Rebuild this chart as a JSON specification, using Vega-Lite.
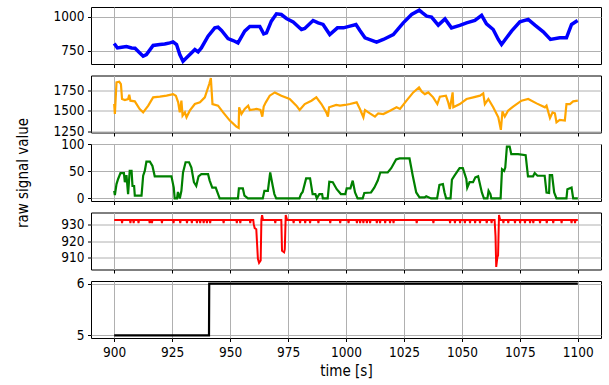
{
  "$schema": "https://vega.github.io/schema/vega-lite/v6.json",
  "padding": {"left": 14, "top": 6, "right": 5, "bottom": 5},
  "background": "white",
  "bounds": "flush",
  "spacing": 11.5,
  "config": {
    "view": {"stroke": "black", "strokeWidth": 1},
    "axis": {
      "labelFont": "DejaVu Sans Condensed, DejaVu Sans",
      "labelFontSize": 13.5,
      "labelColor": "black",
      "tickColor": "black",
      "tickSize": 3.5,
      "tickWidth": 1,
      "domain": false,
      "grid": true,
      "gridColor": "#b0b0b0",
      "gridWidth": 1,
      "labelPadding": 3.5,
      "format": "d",
      "titleFont": "DejaVu Sans Condensed, DejaVu Sans",
      "titleFontSize": 15,
      "titleFontWeight": "normal",
      "titleColor": "black"
    }
  },
  "datasets": {
    "blue": [
      {"t":900,"v":805},{"t":901.4,"v":772},{"t":903.2,"v":777},{"t":905.3,"v":782},{"t":907.5,"v":772},{"t":909,"v":770},{"t":910.3,"v":748},{"t":912.5,"v":711},{"t":913.9,"v":723},{"t":916.8,"v":790},{"t":919.7,"v":797},{"t":921.8,"v":801},{"t":924,"v":809},{"t":925.4,"v":816},{"t":926.9,"v":797},{"t":928.3,"v":723},{"t":929.7,"v":674},{"t":931.2,"v":699},{"t":933.3,"v":735},{"t":934.8,"v":760},{"t":936.2,"v":743},{"t":937.6,"v":772},{"t":940.5,"v":858},{"t":943.4,"v":919},{"t":944.8,"v":924},{"t":946.3,"v":900},{"t":949.1,"v":841},{"t":951.3,"v":826},{"t":953.4,"v":809},{"t":956.3,"v":895},{"t":958.5,"v":929},{"t":962.8,"v":929},{"t":964.5,"v":875},{"t":965.7,"v":882},{"t":967.8,"v":968},{"t":970,"v":1022},{"t":972.1,"v":1017},{"t":974.3,"v":988},{"t":977.2,"v":963},{"t":980.8,"v":907},{"t":982.2,"v":914},{"t":985.8,"v":973},{"t":988,"v":956},{"t":990.1,"v":944},{"t":993,"v":870},{"t":996.3,"v":919},{"t":998.9,"v":919},{"t":1001.7,"v":932},{"t":1004.3,"v":944},{"t":1006,"v":900},{"t":1008.2,"v":846},{"t":1013.2,"v":814},{"t":1016.1,"v":834},{"t":1020.4,"v":870},{"t":1024.7,"v":956},{"t":1028.3,"v":1017},{"t":1031.6,"v":1049},{"t":1033,"v":1029},{"t":1034.8,"v":1005},{"t":1036.9,"v":998},{"t":1039.8,"v":939},{"t":1042.7,"v":985},{"t":1045.5,"v":919},{"t":1049.1,"v":937},{"t":1052,"v":956},{"t":1055.6,"v":973},{"t":1058.5,"v":1010},{"t":1060.6,"v":948},{"t":1063.5,"v":907},{"t":1065.7,"v":834},{"t":1067.1,"v":797},{"t":1071.4,"v":895},{"t":1075,"v":963},{"t":1078.6,"v":981},{"t":1081.5,"v":939},{"t":1085.1,"v":890},{"t":1088.2,"v":834},{"t":1092.2,"v":846},{"t":1095.1,"v":846},{"t":1097.3,"v":944},{"t":1099.9,"v":973}
    ],
    "orange": [
      {"t":900,"v":1583},{"t":900.3,"v":1464},{"t":901,"v":1841},{"t":902.2,"v":1849},{"t":902.9,"v":1822},{"t":903.4,"v":1643},{"t":904.6,"v":1631},{"t":906,"v":1643},{"t":906.5,"v":1695},{"t":907,"v":1623},{"t":908.9,"v":1615},{"t":911,"v":1524},{"t":912.5,"v":1484},{"t":914.7,"v":1564},{"t":916.8,"v":1663},{"t":919.7,"v":1671},{"t":922.6,"v":1683},{"t":925.4,"v":1702},{"t":926.6,"v":1683},{"t":927.6,"v":1603},{"t":928.3,"v":1484},{"t":929,"v":1623},{"t":929.5,"v":1444},{"t":930.5,"v":1484},{"t":931.2,"v":1425},{"t":932.6,"v":1504},{"t":934.8,"v":1583},{"t":937,"v":1603},{"t":939.1,"v":1663},{"t":941,"v":1822},{"t":941.7,"v":1893},{"t":942.4,"v":1583},{"t":944.8,"v":1564},{"t":947,"v":1484},{"t":949.9,"v":1385},{"t":952.7,"v":1313},{"t":953.7,"v":1298},{"t":953.9,"v":1544},{"t":954.9,"v":1464},{"t":956.3,"v":1524},{"t":957.8,"v":1564},{"t":958.5,"v":1512},{"t":961.4,"v":1524},{"t":963.1,"v":1512},{"t":963.9,"v":1433},{"t":964.5,"v":1552},{"t":965.4,"v":1603},{"t":967.1,"v":1683},{"t":969.3,"v":1722},{"t":972.1,"v":1683},{"t":975.7,"v":1643},{"t":978.6,"v":1564},{"t":980,"v":1512},{"t":982.2,"v":1583},{"t":985.1,"v":1623},{"t":987.2,"v":1663},{"t":989.4,"v":1583},{"t":991.5,"v":1484},{"t":992.2,"v":1433},{"t":992.7,"v":1544},{"t":995.8,"v":1572},{"t":997.4,"v":1564},{"t":999.6,"v":1572},{"t":1001.7,"v":1583},{"t":1004.6,"v":1603},{"t":1006,"v":1524},{"t":1007.5,"v":1425},{"t":1008.2,"v":1512},{"t":1010.3,"v":1472},{"t":1012.5,"v":1433},{"t":1013.9,"v":1472},{"t":1016.1,"v":1464},{"t":1019,"v":1504},{"t":1021.8,"v":1544},{"t":1023.3,"v":1524},{"t":1026.1,"v":1623},{"t":1029,"v":1722},{"t":1031.5,"v":1782},{"t":1032.6,"v":1734},{"t":1034,"v":1702},{"t":1035.5,"v":1722},{"t":1037.6,"v":1663},{"t":1039.4,"v":1583},{"t":1040.5,"v":1671},{"t":1043.1,"v":1683},{"t":1044.1,"v":1603},{"t":1044.8,"v":1524},{"t":1046,"v":1722},{"t":1046.3,"v":1544},{"t":1049.1,"v":1583},{"t":1052,"v":1643},{"t":1054.9,"v":1663},{"t":1057.8,"v":1683},{"t":1059.2,"v":1710},{"t":1059.9,"v":1583},{"t":1061.4,"v":1643},{"t":1063.5,"v":1544},{"t":1065.7,"v":1425},{"t":1066.8,"v":1274},{"t":1067.5,"v":1496},{"t":1068.5,"v":1433},{"t":1069.9,"v":1504},{"t":1072.1,"v":1552},{"t":1075.7,"v":1623},{"t":1078.6,"v":1643},{"t":1082.2,"v":1591},{"t":1085.8,"v":1544},{"t":1086.5,"v":1564},{"t":1088,"v":1417},{"t":1089.1,"v":1484},{"t":1090.1,"v":1472},{"t":1090.8,"v":1365},{"t":1092.2,"v":1393},{"t":1094.4,"v":1385},{"t":1095.1,"v":1583},{"t":1096.6,"v":1583},{"t":1098,"v":1615},{"t":1100,"v":1623}
    ],
    "green": [
      {"t":900,"v":14},{"t":900.3,"v":6},{"t":901,"v":26.5},{"t":901.7,"v":36},{"t":902.7,"v":47},{"t":904.2,"v":47},{"t":904.6,"v":30},{"t":905.3,"v":43},{"t":906,"v":8},{"t":906.7,"v":51},{"t":907.5,"v":51},{"t":907.9,"v":23},{"t":908.6,"v":23},{"t":908.9,"v":5},{"t":911.8,"v":5},{"t":912.5,"v":42},{"t":913.2,"v":51},{"t":913.9,"v":68},{"t":915.4,"v":68},{"t":916.5,"v":60},{"t":917.5,"v":41},{"t":924.7,"v":41},{"t":925.7,"v":20},{"t":926.1,"v":0},{"t":927.1,"v":0},{"t":927.5,"v":12},{"t":928.3,"v":0},{"t":929,"v":14},{"t":929.7,"v":48},{"t":930.8,"v":67},{"t":932.3,"v":67},{"t":933.3,"v":57},{"t":934.4,"v":30},{"t":935.4,"v":23},{"t":936.4,"v":41},{"t":937.6,"v":45},{"t":940.5,"v":45},{"t":941.2,"v":33},{"t":942.3,"v":20},{"t":943.8,"v":20},{"t":945.5,"v":0},{"t":953.4,"v":0},{"t":953.8,"v":18.5},{"t":955.5,"v":18.5},{"t":956.2,"v":5},{"t":957.7,"v":0},{"t":964.1,"v":0},{"t":964.8,"v":14},{"t":966.3,"v":14},{"t":967.3,"v":48},{"t":968.4,"v":23},{"t":969.1,"v":8},{"t":969.9,"v":0},{"t":979.9,"v":0},{"t":980.6,"v":8},{"t":981.3,"v":12},{"t":982.8,"v":37},{"t":984.5,"v":37},{"t":985.6,"v":8},{"t":986.8,"v":8},{"t":987.4,"v":0},{"t":988.5,"v":8},{"t":989.7,"v":8},{"t":990,"v":0},{"t":992.1,"v":0},{"t":992.8,"v":31},{"t":994.3,"v":30},{"t":996,"v":17},{"t":997.8,"v":8},{"t":999.7,"v":8},{"t":1000.3,"v":18.5},{"t":1001.9,"v":18.5},{"t":1002.9,"v":33},{"t":1003.9,"v":11},{"t":1005,"v":0},{"t":1007.2,"v":0},{"t":1007.9,"v":10},{"t":1010.8,"v":11},{"t":1012.2,"v":20},{"t":1013.7,"v":33},{"t":1014.8,"v":48},{"t":1018,"v":48},{"t":1019.5,"v":56},{"t":1021.6,"v":72},{"t":1023.1,"v":74},{"t":1027.4,"v":74},{"t":1028.8,"v":42},{"t":1030.3,"v":11},{"t":1031.7,"v":2},{"t":1033.9,"v":2},{"t":1034.6,"v":4},{"t":1036.7,"v":0},{"t":1039.3,"v":0},{"t":1040.3,"v":25},{"t":1041.8,"v":26.5},{"t":1042.5,"v":11},{"t":1043.2,"v":0},{"t":1045.1,"v":0},{"t":1045.7,"v":35},{"t":1046.8,"v":42},{"t":1049,"v":56},{"t":1050.4,"v":56},{"t":1051.9,"v":36},{"t":1052.3,"v":20},{"t":1053.3,"v":30},{"t":1054.8,"v":30},{"t":1055.8,"v":39},{"t":1057,"v":41},{"t":1058.6,"v":11},{"t":1059.5,"v":0},{"t":1061,"v":0},{"t":1061.5,"v":14},{"t":1062.3,"v":8},{"t":1062.7,"v":0},{"t":1066.7,"v":0},{"t":1067.3,"v":54},{"t":1068.2,"v":51},{"t":1068.7,"v":57},{"t":1069.4,"v":96},{"t":1070.6,"v":96},{"t":1071.3,"v":82},{"t":1074.2,"v":82},{"t":1077.5,"v":80},{"t":1078.5,"v":41},{"t":1080.7,"v":41},{"t":1081.4,"v":47},{"t":1082.6,"v":42},{"t":1085.7,"v":42},{"t":1086.5,"v":11},{"t":1087.6,"v":10},{"t":1087.9,"v":43},{"t":1088.9,"v":43},{"t":1089.8,"v":11},{"t":1090.8,"v":0},{"t":1095.1,"v":0},{"t":1095.5,"v":17},{"t":1097.3,"v":20},{"t":1098,"v":0},{"t":1100,"v":0}
    ],
    "red": [
      {"t":900,"v":933},
      {"t":903.2,"v":933},{"t":903.4,"v":931},{"t":903.6,"v":933},
      {"t":906.8,"v":933},{"t":907,"v":931},{"t":907.2,"v":933},
      {"t":908.2,"v":933},{"t":908.4,"v":931},{"t":908.6,"v":933},
      {"t":910.3,"v":933},{"t":910.5,"v":931},{"t":910.7,"v":933},
      {"t":915.1,"v":933},{"t":915.3,"v":931},{"t":915.5,"v":933},
      {"t":916.1,"v":933},{"t":916.3,"v":931},{"t":916.5,"v":933},
      {"t":920.4,"v":933},{"t":920.6,"v":931},{"t":920.8,"v":933},
      {"t":925.4,"v":933},{"t":925.6,"v":931},{"t":925.8,"v":933},
      {"t":928.3,"v":933},{"t":928.5,"v":931},{"t":928.7,"v":933},
      {"t":931.2,"v":933},{"t":931.4,"v":931},{"t":931.6,"v":933},
      {"t":933.3,"v":933},{"t":933.5,"v":931},{"t":933.7,"v":933},
      {"t":935.5,"v":933},{"t":935.7,"v":931},{"t":935.9,"v":933},
      {"t":936.9,"v":933},{"t":937.1,"v":931},{"t":937.3,"v":933},
      {"t":938.4,"v":933},{"t":938.6,"v":931},{"t":938.8,"v":933},
      {"t":939.8,"v":933},{"t":940,"v":931},{"t":940.2,"v":933},
      {"t":941.2,"v":933},{"t":941.4,"v":931},{"t":941.6,"v":933},
      {"t":947,"v":933},{"t":947.2,"v":931},{"t":947.4,"v":933},
      {"t":952.7,"v":933},{"t":952.9,"v":931},{"t":953.1,"v":933},
      {"t":954.2,"v":933},{"t":954.4,"v":931},{"t":954.6,"v":933},
      {"t":958.5,"v":933},{"t":958.7,"v":931},{"t":958.9,"v":933},
      {"t":960,"v":933},{"t":960.2,"v":930.4},{"t":960.6,"v":928},{"t":961.3,"v":927.3},{"t":962,"v":909},{"t":962.5,"v":906.5},{"t":963.2,"v":908},{"t":963.5,"v":933},{"t":963.8,"v":936},{"t":964.2,"v":933},
      {"t":969.3,"v":933},{"t":969.5,"v":931},{"t":969.7,"v":933},
      {"t":972.1,"v":933},{"t":972.4,"v":914},{"t":973.3,"v":913},{"t":973.6,"v":915},{"t":974,"v":936},{"t":974.6,"v":933},
      {"t":977.2,"v":933},{"t":977.4,"v":931},{"t":977.6,"v":933},
      {"t":980,"v":933},{"t":980.2,"v":931},{"t":980.4,"v":933},
      {"t":982.2,"v":933},{"t":982.4,"v":931},{"t":982.6,"v":933},
      {"t":984.3,"v":933},{"t":984.5,"v":931},{"t":984.7,"v":933},
      {"t":987.9,"v":933},{"t":988.1,"v":931},{"t":988.3,"v":933},
      {"t":993,"v":933},{"t":993.2,"v":931},{"t":993.4,"v":933},
      {"t":997.3,"v":933},{"t":997.5,"v":931},{"t":997.7,"v":933},
      {"t":1000.9,"v":933},{"t":1001.1,"v":931},{"t":1001.3,"v":933},
      {"t":1004.5,"v":933},{"t":1004.7,"v":931},{"t":1004.9,"v":933},
      {"t":1005.9,"v":933},{"t":1006.1,"v":931},{"t":1006.3,"v":933},
      {"t":1007.3,"v":933},{"t":1007.5,"v":931},{"t":1007.7,"v":933},
      {"t":1008.8,"v":933},{"t":1009,"v":931},{"t":1009.2,"v":933},
      {"t":1010.2,"v":933},{"t":1010.4,"v":931},{"t":1010.6,"v":933},
      {"t":1013.1,"v":933},{"t":1013.3,"v":931},{"t":1013.5,"v":933},
      {"t":1014.5,"v":933},{"t":1014.7,"v":931},{"t":1014.9,"v":933},
      {"t":1016.7,"v":933},{"t":1016.9,"v":931},{"t":1017.1,"v":933},
      {"t":1018.8,"v":933},{"t":1019,"v":931},{"t":1019.2,"v":933},
      {"t":1020.3,"v":933},{"t":1020.5,"v":931},{"t":1020.7,"v":933},
      {"t":1030.3,"v":933},{"t":1030.5,"v":931},{"t":1030.7,"v":933},
      {"t":1037.5,"v":933},{"t":1037.7,"v":931},{"t":1037.9,"v":933},
      {"t":1044.7,"v":933},{"t":1044.9,"v":931},{"t":1045.1,"v":933},
      {"t":1046.8,"v":933},{"t":1047,"v":931},{"t":1047.2,"v":933},
      {"t":1049,"v":933},{"t":1049.2,"v":931},{"t":1049.4,"v":933},
      {"t":1051.1,"v":933},{"t":1051.3,"v":931},{"t":1051.5,"v":933},
      {"t":1053.3,"v":933},{"t":1053.5,"v":931},{"t":1053.7,"v":933},
      {"t":1055.5,"v":933},{"t":1055.7,"v":931},{"t":1055.9,"v":933},
      {"t":1057.6,"v":933},{"t":1057.8,"v":931},{"t":1058,"v":933},
      {"t":1060.5,"v":933},{"t":1060.7,"v":931},{"t":1060.9,"v":933},
      {"t":1062.6,"v":933},{"t":1062.8,"v":931},{"t":1063,"v":933},
      {"t":1064.1,"v":933},{"t":1064.5,"v":923},{"t":1064.8,"v":904},{"t":1065.3,"v":910},{"t":1065.6,"v":911},{"t":1066,"v":936},{"t":1066.5,"v":933},
      {"t":1067.7,"v":933},{"t":1067.9,"v":931},{"t":1068.1,"v":933},
      {"t":1069.8,"v":933},{"t":1070,"v":931},{"t":1070.2,"v":933},
      {"t":1072.7,"v":933},{"t":1072.9,"v":931},{"t":1073.1,"v":933},
      {"t":1074.9,"v":933},{"t":1075.1,"v":931},{"t":1075.3,"v":933},
      {"t":1077,"v":933},{"t":1077.2,"v":931},{"t":1077.4,"v":933},
      {"t":1079.2,"v":933},{"t":1079.4,"v":931},{"t":1079.6,"v":933},
      {"t":1080.6,"v":933},{"t":1080.8,"v":931},{"t":1081,"v":933},
      {"t":1083.5,"v":933},{"t":1083.7,"v":931},{"t":1083.9,"v":933},
      {"t":1086.4,"v":933},{"t":1086.6,"v":931},{"t":1086.8,"v":933},
      {"t":1089.2,"v":933},{"t":1089.4,"v":931},{"t":1089.6,"v":933},
      {"t":1092.8,"v":933},{"t":1093,"v":931},{"t":1093.2,"v":933},
      {"t":1097.1,"v":933},{"t":1097.3,"v":931},{"t":1097.5,"v":933},
      {"t":1098.6,"v":933},{"t":1098.8,"v":931},{"t":1099,"v":933},
      {"t":1100,"v":933}
    ],
    "black": [
      {"t":900,"v":5},{"t":940.9,"v":5},{"t":941,"v":6},{"t":1100,"v":6}
    ]
  },
  "vconcat": [
    {
      "width": 510, "height": 57,
      "data": {"name": "blue"},
      "mark": {"type": "line", "color": "#0000ff", "strokeWidth": 3.5, "clip": true},
      "encoding": {
        "x": {"field": "t", "type": "quantitative", "scale": {"domain": [890, 1110], "nice": false}, "axis": {"values": [900, 925, 950, 975, 1000, 1025, 1050, 1075, 1100], "labels": false, "title": null}},
        "y": {"field": "v", "type": "quantitative", "scale": {"domain": [654, 1072], "nice": false, "zero": false}, "axis": {"values": [750, 1000], "title": null}}
      }
    },
    {
      "width": 510, "height": 57,
      "data": {"name": "orange"},
      "mark": {"type": "line", "color": "#ffa500", "strokeWidth": 2.2, "clip": true},
      "encoding": {
        "x": {"field": "t", "type": "quantitative", "scale": {"domain": [890, 1110], "nice": false}, "axis": {"values": [900, 925, 950, 975, 1000, 1025, 1050, 1075, 1100], "labels": false, "title": null}},
        "y": {"field": "v", "type": "quantitative", "scale": {"domain": [1243, 1924], "nice": false, "zero": false}, "axis": {"values": [1250, 1500, 1750], "title": null}}
      }
    },
    {
      "width": 510, "height": 57,
      "data": {"name": "green"},
      "mark": {"type": "line", "color": "#008000", "strokeWidth": 2.2, "clip": true},
      "encoding": {
        "x": {"field": "t", "type": "quantitative", "scale": {"domain": [890, 1110], "nice": false}, "axis": {"values": [900, 925, 950, 975, 1000, 1025, 1050, 1075, 1100], "labels": false, "title": null}},
        "y": {"field": "v", "type": "quantitative", "scale": {"domain": [-4.8, 100.8], "nice": false, "zero": false}, "axis": {"values": [0, 50, 100], "title": "raw signal value", "titleX": -61, "titleY": 28.5, "titleAngle": 270, "titleBaseline": "bottom", "titleAlign": "center"}}
      }
    },
    {
      "width": 510, "height": 57,
      "data": {"name": "red"},
      "mark": {"type": "line", "color": "#ff0000", "strokeWidth": 2, "clip": true},
      "encoding": {
        "x": {"field": "t", "type": "quantitative", "scale": {"domain": [890, 1110], "nice": false}, "axis": {"values": [900, 925, 950, 975, 1000, 1025, 1050, 1075, 1100], "labels": false, "title": null}},
        "y": {"field": "v", "type": "quantitative", "scale": {"domain": [902.4, 937.6], "nice": false, "zero": false}, "axis": {"values": [910, 920, 930], "title": null}}
      }
    },
    {
      "width": 510, "height": 57,
      "data": {"name": "black"},
      "mark": {"type": "line", "color": "black", "strokeWidth": 2.2, "clip": true},
      "encoding": {
        "x": {"field": "t", "type": "quantitative", "scale": {"domain": [890, 1110], "nice": false}, "axis": {"values": [900, 925, 950, 975, 1000, 1025, 1050, 1075, 1100], "title": "time [s]", "labelPadding": 4, "titlePadding": 4}},
        "y": {"field": "v", "type": "quantitative", "scale": {"domain": [4.95, 6.05], "nice": false, "zero": false}, "axis": {"values": [5, 6], "title": null}}
      }
    }
  ]
}
